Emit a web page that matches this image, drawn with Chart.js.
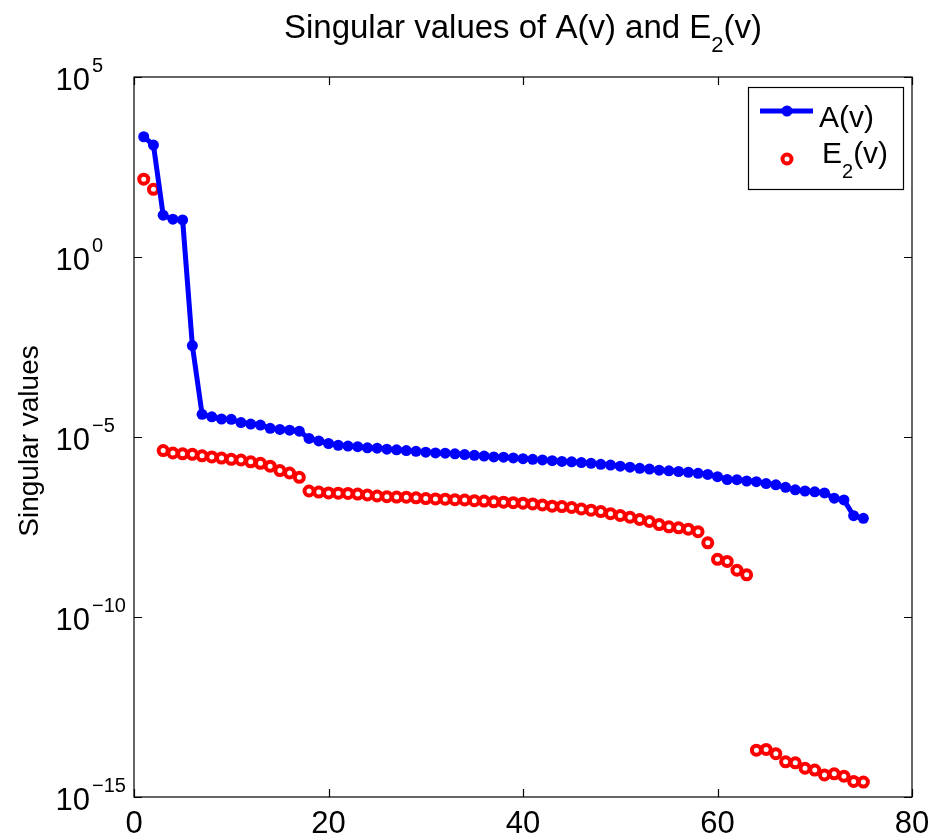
<!DOCTYPE html>
<html>
<head>
<meta charset="utf-8">
<script src="https://cdn.jsdelivr.net/npm/chart.js@4.4.1/dist/chart.umd.min.js"></script>
<style>
  html, body { margin: 0; padding: 0; background: #ffffff; }
  canvas { display: block; }
</style>
</head>
<body>
<canvas id="c" width="933" height="837"></canvas>
<script>
// ---- data ----
const indexK = [1,2,3,4,5,6,7,8,9,10,11,12,13,14,15,16,17,18,19,20,21,22,23,24,25,
  26,27,28,29,30,31,32,33,34,35,36,37,38,39,40,41,42,43,44,45,46,47,48,49,50,
  51,52,53,54,55,56,57,58,59,60,61,62,63,64,65,66,67,68,69,70,71,72,73,74,75];

const sigmaA = [2.19e3, 1.29e3, 14.5, 11.2, 10.7, 3.47e-3, 4.27e-5, 3.63e-5, 3.16e-5, 3.09e-5,
  2.51e-5, 2.29e-5, 2.14e-5, 1.74e-5, 1.62e-5, 1.55e-5, 1.45e-5, 9.1e-6, 7.8e-6, 6.6e-6,
  5.9e-6, 5.6e-6, 5.4e-6, 5.0e-6, 4.9e-6, 4.6e-6, 4.4e-6, 4.2e-6, 4.0e-6, 3.8e-6,
  3.6e-6, 3.55e-6, 3.4e-6, 3.24e-6, 3.1e-6, 2.95e-6, 2.8e-6, 2.75e-6, 2.63e-6, 2.5e-6,
  2.4e-6, 2.3e-6, 2.2e-6, 2.1e-6, 2.04e-6, 1.95e-6, 1.86e-6, 1.74e-6, 1.66e-6, 1.55e-6,
  1.45e-6, 1.35e-6, 1.29e-6, 1.2e-6, 1.15e-6, 1.1e-6, 1.05e-6, 9.8e-7, 9.1e-7, 7.9e-7,
  6.6e-7, 6.5e-7, 6.0e-7, 5.75e-7, 5.1e-7, 4.7e-7, 4.0e-7, 3.4e-7, 3.16e-7, 3.0e-7,
  2.8e-7, 2.0e-7, 1.78e-7, 6.5e-8, 5.5e-8];

const sigmaE2 = [145, 76, 4.2e-6, 3.6e-6, 3.4e-6, 3.3e-6, 3.0e-6, 2.8e-6, 2.6e-6, 2.4e-6,
  2.3e-6, 2.04e-6, 1.86e-6, 1.55e-6, 1.17e-6, 1.0e-6, 7.6e-7, 3.16e-7, 2.95e-7, 2.8e-7,
  2.75e-7, 2.7e-7, 2.6e-7, 2.45e-7, 2.3e-7, 2.2e-7, 2.15e-7, 2.13e-7, 2.04e-7, 1.95e-7,
  1.9e-7, 1.88e-7, 1.82e-7, 1.78e-7, 1.7e-7, 1.66e-7, 1.58e-7, 1.55e-7, 1.5e-7, 1.45e-7,
  1.38e-7, 1.29e-7, 1.2e-7, 1.17e-7, 1.1e-7, 1.0e-7, 9.3e-8, 8.5e-8, 7.4e-8, 6.6e-8,
  5.9e-8, 5.1e-8, 4.5e-8, 3.7e-8, 3.2e-8, 3.0e-8, 2.75e-8, 2.35e-8, 1.15e-8, 4.0e-9,
  3.5e-9, 2.0e-9, 1.48e-9, 2.0e-14, 2.1e-14, 1.6e-14, 9.5e-15, 8.9e-15, 6.3e-15, 5.6e-15,
  4.1e-15, 4.4e-15, 3.8e-15, 2.7e-15, 2.6e-15];

const xTicks = [0, 20, 40, 60, 80];
const yTickExponents = [5, 0, -5, -10, -15];
const seriesNames = ['A(v)', 'E', '2', '(v)'];
const titleParts = ['Singular values of A(v) and E', '2', '(v)'];
const yAxisTitle = 'Singular values';

// ---- styling ----
const FONT = '"Liberation Sans", Arial, Helvetica, sans-serif';
const BLUE = '#0000ff';
const RED = '#ff0000';

function toPoints(xs, ys) { return xs.map((x, i) => ({ x: x, y: ys[i] })); }

const decorPlugin = {
  id: 'matlabDecor',
  beforeDraw(chart) {
    const c = chart.ctx;
    c.save();
    c.fillStyle = '#ffffff';
    c.fillRect(0, 0, chart.width, chart.height);
    c.restore();
  },
  afterDraw(chart) {
    const c = chart.ctx;
    const a = chart.chartArea;
    const xs = chart.scales.x, ys = chart.scales.y;
    c.save();
    // frame
    c.strokeStyle = '#000000';
    c.lineWidth = 1.2;
    c.strokeRect(a.left, a.top, a.right - a.left, a.bottom - a.top);
    // ticks (inward, all four sides)
    const tl = 8;
    c.beginPath();
    xTicks.forEach(v => {
      const px = Math.round(xs.getPixelForValue(v)) + 0.5;
      c.moveTo(px, a.bottom); c.lineTo(px, a.bottom - tl);
      c.moveTo(px, a.top); c.lineTo(px, a.top + tl);
    });
    yTickExponents.forEach(e => {
      const py = Math.round(ys.getPixelForValue(Math.pow(10, e))) + 0.5;
      c.moveTo(a.left, py); c.lineTo(a.left + tl, py);
      c.moveTo(a.right, py); c.lineTo(a.right - tl, py);
    });
    c.stroke();

    c.fillStyle = '#000000';
    // x tick labels
    c.font = '31px ' + FONT;
    c.textAlign = 'center';
    c.textBaseline = 'alphabetic';
    xTicks.forEach(v => {
      c.fillText(String(v), xs.getPixelForValue(v), a.bottom + 36);
    });
    // y tick labels: 10 with superscript exponent
    yTickExponents.forEach(e => {
      const py = ys.getPixelForValue(Math.pow(10, e));
      c.font = '31px ' + FONT;
      c.textAlign = 'right';
      c.fillText('10', a.left - 44, py + 13);
      c.font = '20px ' + FONT;
      c.textAlign = 'left';
      const ex = e < 0 ? '\u2212' + String(-e) : String(e);
      c.fillText(ex, a.left - 42, py - 5);
    });

    // y axis title
    c.save();
    c.translate(38, (a.top + a.bottom) / 2 + 4);
    c.rotate(-Math.PI / 2);
    c.font = '28px ' + FONT;
    c.textAlign = 'center';
    c.fillText(yAxisTitle, 0, 0);
    c.restore();

    // title with subscript
    c.textAlign = 'left';
    const fMain = '33px ' + FONT, fSub = '22px ' + FONT;
    c.font = fMain; const w0 = c.measureText(titleParts[0]).width;
    c.font = fSub; const w1 = c.measureText(titleParts[1]).width;
    c.font = fMain; const w2 = c.measureText(titleParts[2]).width;
    const total = w0 + w1 + w2;
    let tx = (a.left + a.right) / 2 - total / 2;
    const tb = 38;
    c.font = fMain; c.fillText(titleParts[0], tx, tb); tx += w0;
    c.font = fSub; c.fillText(titleParts[1], tx, tb + 14); tx += w1;
    c.font = fMain; c.fillText(titleParts[2], tx, tb);

    // legend
    const bx = a.right - 164, by = a.top + 10, bw = 155, bh = 102;
    c.fillStyle = '#ffffff';
    c.fillRect(bx, by, bw, bh);
    c.strokeStyle = '#000000';
    c.lineWidth = 1.2;
    c.strokeRect(bx + 0.5, by + 0.5, bw, bh);
    // entry A
    const ly1 = by + 24;
    c.strokeStyle = BLUE; c.lineWidth = 5;
    c.beginPath(); c.moveTo(bx + 12, ly1); c.lineTo(bx + 65, ly1); c.stroke();
    c.fillStyle = BLUE;
    c.beginPath(); c.arc(bx + 39, ly1, 5.5, 0, Math.PI * 2); c.fill();
    c.fillStyle = '#000000';
    c.font = '30px ' + FONT;
    c.fillText(seriesNames[0], bx + 71, by + 40);
    // entry E2
    const ly2 = by + 72;
    c.strokeStyle = RED; c.lineWidth = 4;
    c.beginPath(); c.arc(bx + 39, ly2, 4.5, 0, Math.PI * 2); c.stroke();
    c.fillStyle = '#000000';
    c.font = '30px ' + FONT;
    c.fillText(seriesNames[1], bx + 74, by + 76);
    const we = c.measureText(seriesNames[1]).width;
    c.font = '20px ' + FONT;
    c.fillText(seriesNames[2], bx + 74 + we, by + 91);
    const ws = c.measureText(seriesNames[2]).width;
    c.font = '30px ' + FONT;
    c.fillText(seriesNames[3], bx + 74 + we + ws, by + 76);
    c.restore();
  }
};

new Chart(document.getElementById('c'), {
  type: 'line',
  data: {
    datasets: [
      {
        label: 'A(v)',
        data: toPoints(indexK, sigmaA),
        borderColor: BLUE,
        backgroundColor: BLUE,
        borderWidth: 5,
        pointRadius: 5.5,
        pointBorderWidth: 0,
        pointBackgroundColor: BLUE,
        pointHoverRadius: 5.5,
        tension: 0,
        fill: false
      },
      {
        label: 'E2(v)',
        data: toPoints(indexK, sigmaE2),
        showLine: false,
        borderColor: RED,
        backgroundColor: 'rgba(0,0,0,0)',
        pointBackgroundColor: 'rgba(0,0,0,0)',
        pointBorderColor: RED,
        pointRadius: 4.5,
        pointBorderWidth: 4,
        pointHoverRadius: 4.5,
        fill: false
      }
    ]
  },
  options: {
    responsive: false,
    animation: false,
    events: [],
    layout: { autoPadding: false, padding: { left: 134, right: 21, top: 77, bottom: 40 } },
    plugins: {
      legend: { display: false },
      title: { display: false },
      tooltip: { enabled: false }
    },
    scales: {
      x: {
        type: 'linear', min: 0, max: 80, display: false,
        ticks: { display: false },
        grid: { display: false, drawTicks: false },
        border: { display: false }
      },
      y: {
        type: 'logarithmic', min: 1e-15, max: 1e5, display: false,
        ticks: { display: false },
        grid: { display: false, drawTicks: false },
        border: { display: false }
      }
    }
  },
  plugins: [decorPlugin]
});
</script>
</body>
</html>
